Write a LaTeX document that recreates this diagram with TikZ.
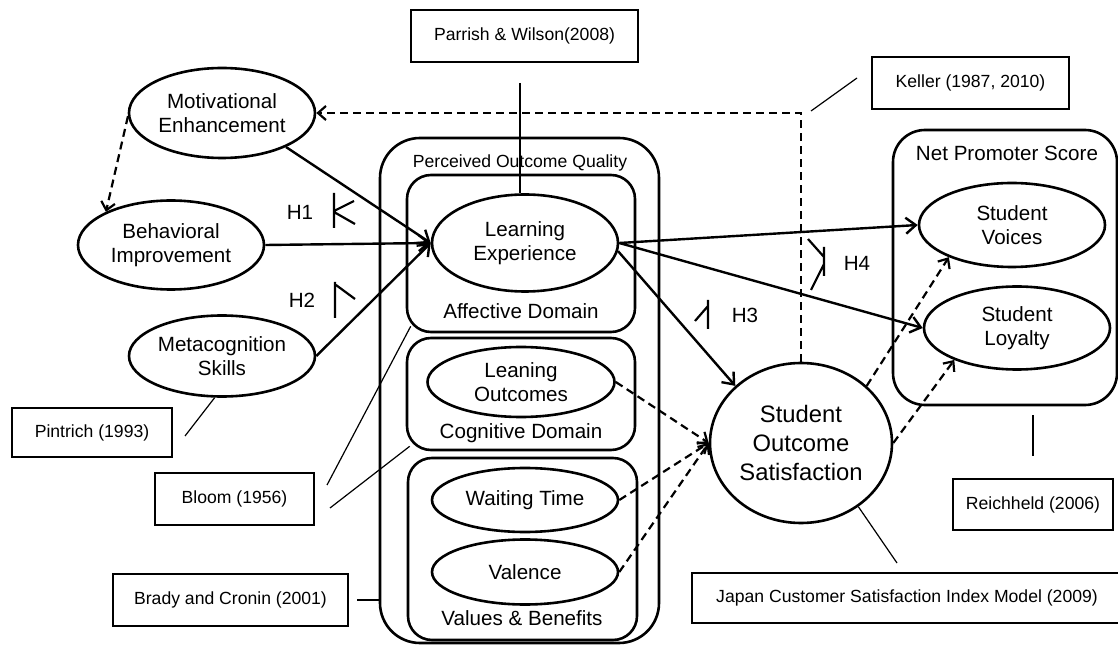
\documentclass[tikz,border=0pt]{standalone}
\usepackage{fontspec}
\setmainfont{Liberation Sans}
\usetikzlibrary{shapes.geometric,arrows.meta}

\newcommand\conceptfont{\fontsize{10.3}{12.3}\selectfont}
\newcommand\sourcefont{\fontsize{8.8}{10.5}\selectfont}
\newcommand\sosfont{\fontsize{11.9}{14.3}\selectfont}

\tikzset{
    construct/.style={ellipse, draw, line width=1.3pt, inner sep=0pt, align=center, font=\conceptfont},
    group/.style={draw, line width=1.3pt, rounded corners=12pt, inner sep=0pt},
    source/.style={draw, line width=0.8pt, inner sep=0pt, font=\sourcefont},
    effect/.style={line width=1.2pt, -{Straight Barb[length=5pt,width=8pt]}},
    link/.style={line width=1.1pt, dash pattern=on 4pt off 2.5pt, -{Straight Barb[length=4pt,width=7pt]}},
    citeline/.style={line width=0.6pt},
    marker/.style={line width=1.1pt}
}

\begin{document}
\begin{tikzpicture}[x=0.5pt, y=-0.5pt, font=\conceptfont]
    \useasboundingbox (0,0) rectangle (1118,646);

    % quality groups
    \node[group, rounded corners=20pt, minimum width=139.5pt, minimum height=252.5pt] (poq) at (519.5,390.5) {};
    \node[group, minimum width=114pt, minimum height=78.5pt] (aff) at (521,253.5) {};
    \node[group, minimum width=114pt, minimum height=56pt] (cog) at (521,394) {};
    \node[group, minimum width=114.5pt, minimum height=91pt] (valben) at (522.5,549) {};
    \node[group, rounded corners=16pt, minimum width=112pt, minimum height=137.5pt] (nps) at (1005,267.5) {};

    \node[anchor=base, font=\sourcefont] (poqlabel) at (520,168) {Perceived Outcome Quality};
    \node[anchor=base] (afflabel) at (521,319) {Affective Domain};
    \node[anchor=base] (coglabel) at (521,438) {Cognitive Domain};
    \node[anchor=base] (vblabel) at (522,625) {Values \& Benefits};
    \node[anchor=base] (npslabel) at (1007,161) {Net Promoter Score};

    % constructs
    \node[construct, minimum width=93pt, minimum height=45pt] (mot) at (222,113) {Motivational\\Enhancement};
    \node[construct, minimum width=93pt, minimum height=44.5pt] (beh) at (171,245) {Behavioral\\Improvement};
    \node[construct, minimum width=93pt, minimum height=40.5pt] (meta) at (222,356) {Metacognition\\Skills};
    \node[construct, minimum width=93pt, minimum height=48.5pt] (learn) at (525,243) {Learning\\Experience};
    \node[construct, minimum width=93.5pt, minimum height=35pt] (lout) at (521,382) {Leaning\\Outcomes};
    \node[construct, minimum width=93pt, minimum height=32pt] (wait) at (525,500) {Waiting Time};
    \node[construct, minimum width=93pt, minimum height=32.5pt] (val) at (525,572) {Valence};
    \node[construct, font=\sosfont, minimum width=91pt, minimum height=80pt] (sos) at (801,443) {Student\\Outcome\\Satisfaction};
    \node[construct, minimum width=93pt, minimum height=42pt] (voice) at (1012,225) {Student\\Voices};
    \node[construct, minimum width=93pt, minimum height=41.5pt] (loyal) at (1017,328) {Student\\Loyalty};

    % sources
    \node[source, minimum width=113.5pt, minimum height=26pt] (parrish) at (524.5,36) {Parrish \& Wilson(2008)};
    \node[source, minimum width=98.5pt, minimum height=26pt] (keller) at (970.5,83) {Keller (1987, 2010)};
    \node[source, minimum width=80pt, minimum height=24.5pt] (pintrich) at (92,432.5) {Pintrich (1993)};
    \node[source, minimum width=79.5pt, minimum height=26pt] (bloom) at (234.5,499) {Bloom (1956)};
    \node[source, minimum width=117.5pt, minimum height=26pt] (brady) at (230.5,600) {Brady and Cronin (2001)};
    \node[source, minimum width=80pt, minimum height=25.5pt] (reich) at (1033,504.5) {Reichheld (2006)};
    \node[source, minimum width=215pt, minimum height=25pt] (japan) at (907,598) {Japan Customer Satisfaction Index Model (2009)};

    % hypotheses
    \draw[effect] (mot.-28) -- (learn.west);
    \draw[effect] (beh.east) -- (learn.west);
    \draw[effect] (meta.east) -- (learn.west);
    \draw[effect] (learn.east) -- (voice.west);
    \draw[effect] (learn.east) -- (loyal.west);
    \draw[effect] (learn.-5) -- (sos.139);

    \draw[link] (lout.east) -- (sos.west);
    \draw[link] (wait.east) -- (sos.west);
    \draw[link] (val.east) -- (sos.west);
    \draw[link] (sos.41) -- (voice.207);
    \draw[link] (sos.east) -- (loyal.207);
    \draw[link] (mot.182) -- (beh.153);
    \draw[link] (sos.north) |- (mot.east);

    \draw[marker] (334,193) -- (334,228) (334,211) -- (354,201) (334,212) -- (355,224);
    \draw[marker] (335,282) -- (335,318) (336,285) -- (355,299);
    \draw[marker] (708,300) -- (708,329) (695,321) -- (708,306);
    \draw[marker] (808,239) -- (824,257) (824,247) -- (824,276) (824,264) -- (811,290);

    \node (h1) at (300,212) {H1};
    \node (h2) at (302,300) {H2};
    \node (h3) at (745,315) {H3};
    \node (h4) at (857,263) {H4};

    % source lines
    \coordinate (parrishend) at (520,83);
    \coordinate (kellerA) at (811,111);
    \coordinate (kellerB) at (857,78);
    \coordinate (pintrichend) at (185,436);
    \coordinate (bloomA) at (327,485);
    \coordinate (bloomB) at (330,508);
    \coordinate (bradyend) at (357,600);
    \coordinate (reichA) at (1033,415);
    \coordinate (reichB) at (1033,456);
    \coordinate (japanend) at (897,563);

    \draw[citeline] (parrishend) -- (parrishend |- learn.north);
    \draw[citeline] (kellerA) -- (kellerB);
    \draw[citeline] (pintrichend) -- (meta.260);
    \draw[citeline] (bloomA) -- ([shift={(5,-7)}]aff.south west);
    \draw[citeline] (bloomB) -- ([shift={(4,-5)}]cog.south west);
    \draw[citeline] (bradyend) -- (bradyend -| poq.west);
    \draw[citeline] (reichA) -- (reichB);
    \draw[citeline] (sos.312) -- (japanend);
\end{tikzpicture}
\end{document}
